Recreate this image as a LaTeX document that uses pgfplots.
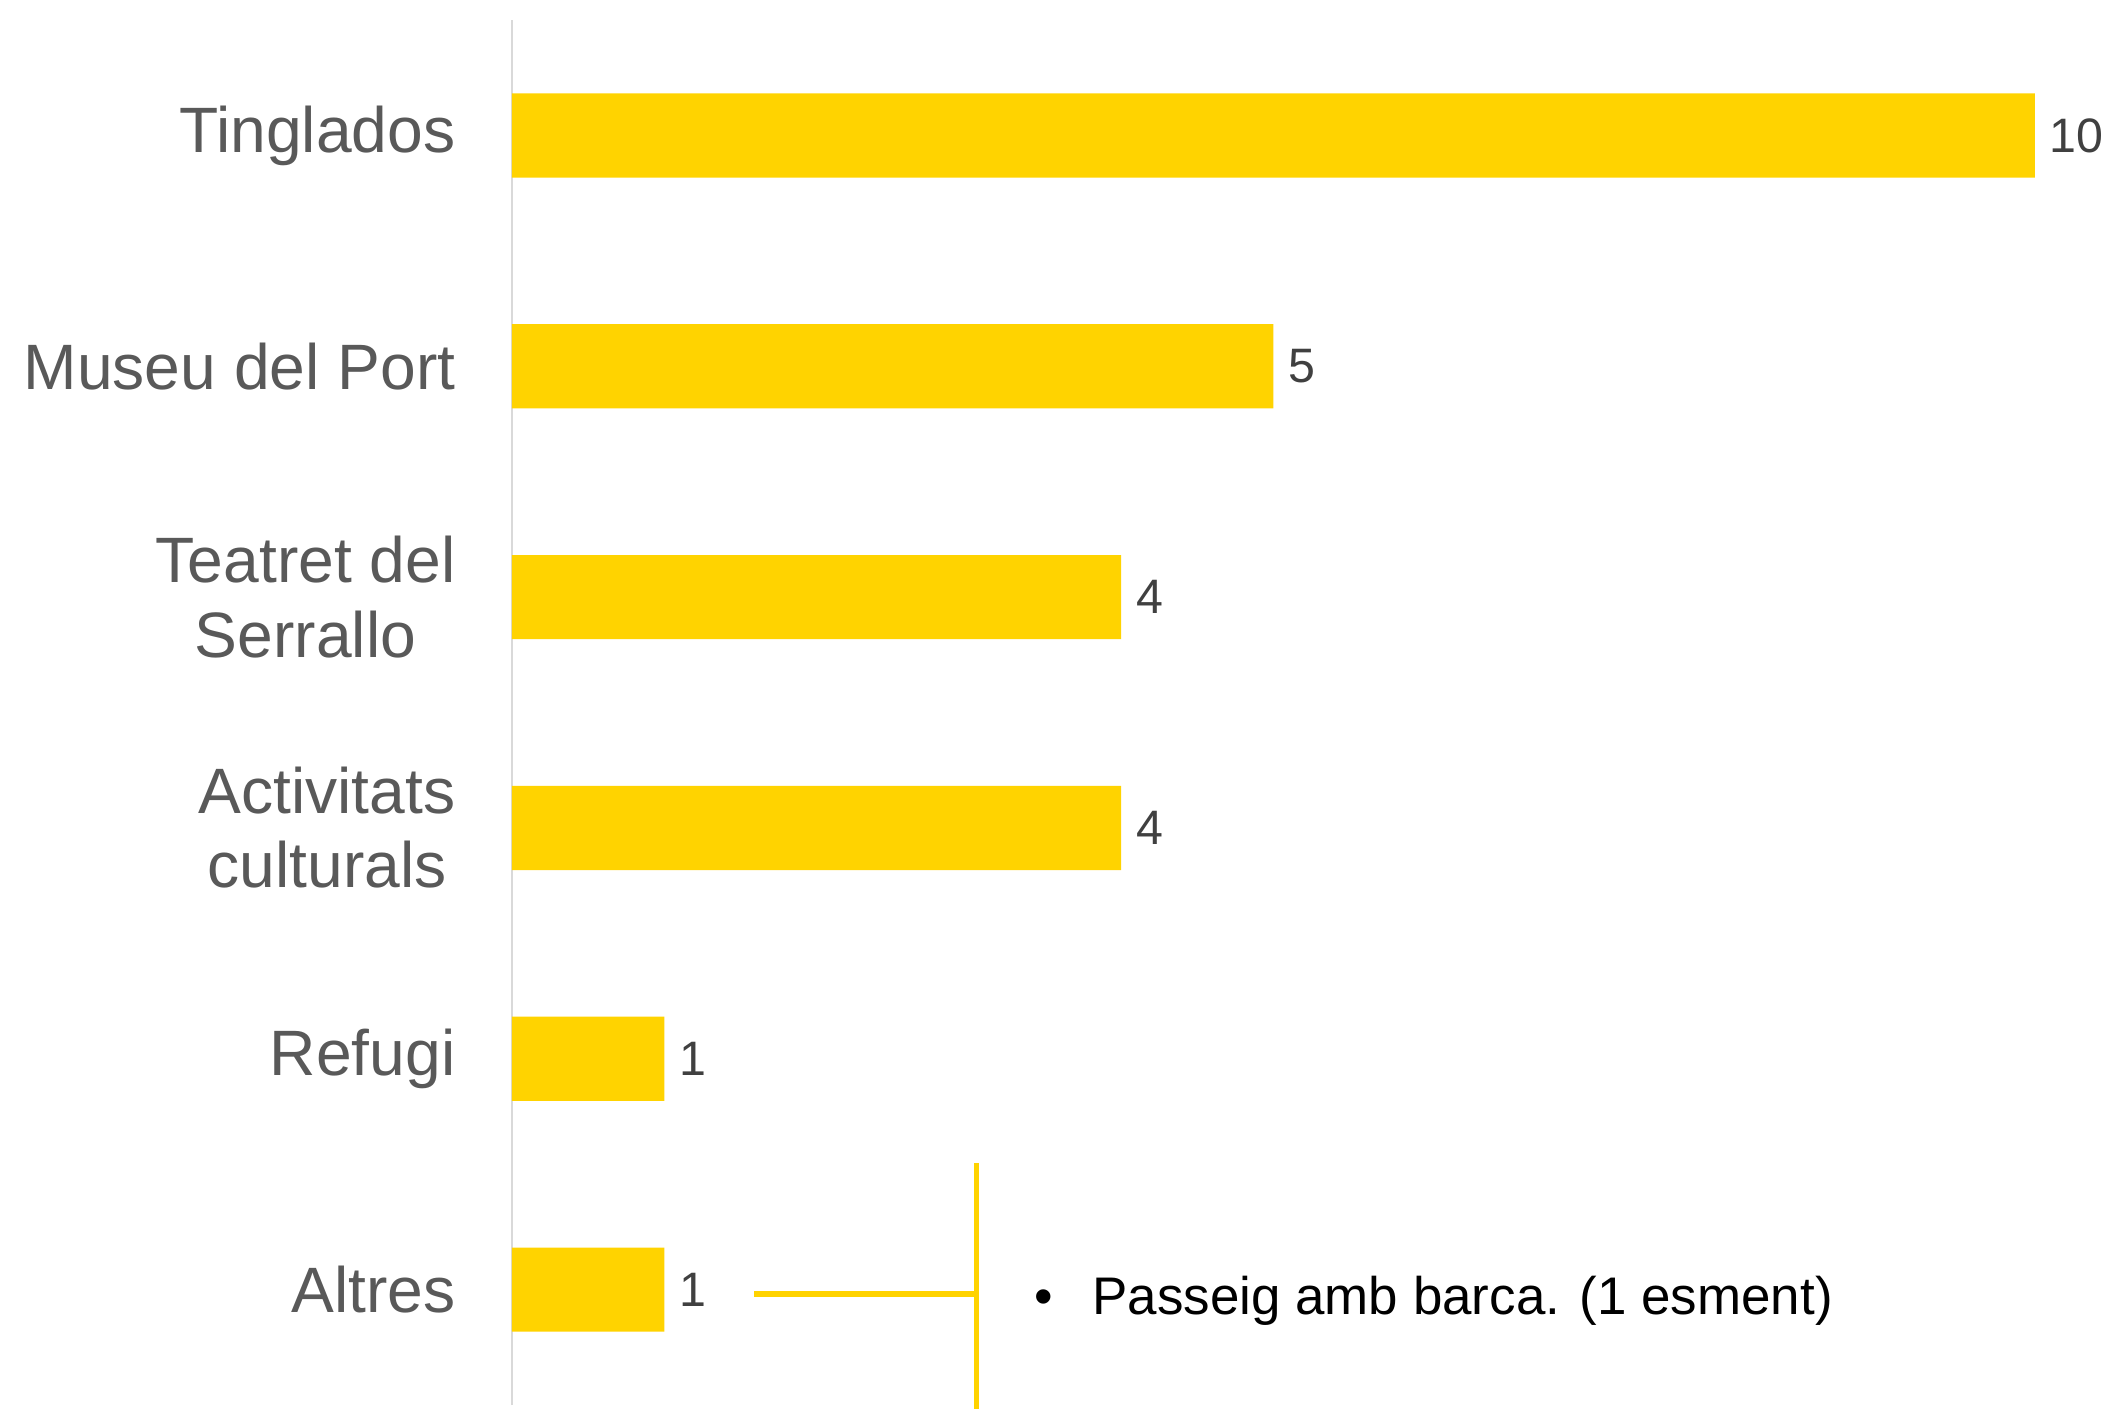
\documentclass[border=0pt]{standalone}
\usepackage{pgfplots}
\pgfplotsset{compat=1.18}
\usepackage{fontspec}
\setmainfont{Liberation Sans}
\definecolor{barY}{RGB}{255,211,0}
\definecolor{catGray}{RGB}{89,89,89}
\definecolor{valGray}{RGB}{64,64,64}
\definecolor{axGray}{RGB}{217,217,217}
\begin{document}
\begin{tikzpicture}
\begin{axis}[
  at={(0,0)}, anchor=south west,
  scale only axis,
  width=365.5pt, height=332.4pt,
  xbar, bar width=20.2pt,
  xmin=0, xmax=10, ymin=-0.5, ymax=5.5,
  axis x line=none,
  axis y line*=left,
  y axis line style={draw=axGray, line width=0.5pt},
  ytick={0,1,2,3,4,5},
  yticklabels={Altres,Refugi,{Activitats\\culturals},{Teatret del\\Serrallo},Museu del Port,Tinglados},
  major tick length=0pt,
  yticklabel style={anchor=east, inner sep=0pt, xshift=-13.4pt, align=center, text=catGray, font=\fontsize{15.4}{17.8}\selectfont},
  /pgf/number format/assume math mode=true,
  nodes near coords,
  every node near coord/.append style={anchor=west, inner sep=0pt, xshift=3.4pt, text=valGray, font=\fontsize{11.6}{14}\selectfont},
  clip=false,
]
\addplot[fill=barY, draw=none] coordinates {(1,0) (1,1) (4,2) (4,3) (5,4) (10,5)};
\draw[barY, line width=1.44pt] (axis cs:1.59,-0.02) -- (axis cs:3.047,-0.02);
\draw[barY, line width=1.2pt] (axis cs:3.047,0.548) -- (axis cs:3.047,-0.52);
\node[anchor=base west, inner sep=0pt, font=\fontsize{12.7}{15}\selectfont] at (axis cs:3.424,-0.11) {•};
\node[anchor=base west, inner sep=0pt, font=\fontsize{12.7}{15}\selectfont] at (axis cs:3.807,-0.11) {Passeig amb barca. (1 esment)};
\end{axis}
\pgfresetboundingbox
\path[use as bounding box] (-122.88pt,-0.72pt) rectangle (384.96pt,337.2pt);
\end{tikzpicture}
\end{document}
